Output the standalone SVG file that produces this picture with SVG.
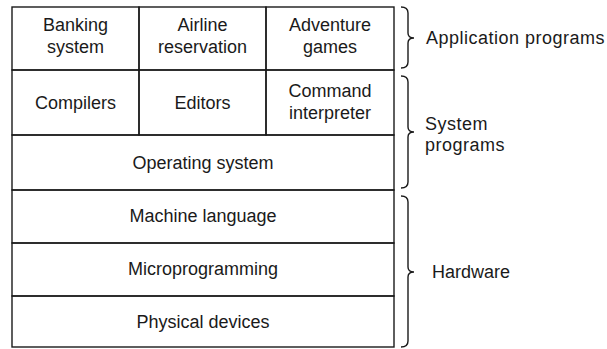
<svg xmlns="http://www.w3.org/2000/svg" width="607" height="349" viewBox="0 0 607 349">
<style>
.box{fill:none;stroke:#1a1a1a;stroke-width:1.4}
.brace{fill:none;stroke:#1a1a1a;stroke-width:1.4}
text{font-family:"Liberation Sans",Arial,sans-serif;font-size:18px;fill:#1a1a1a}
.c{text-anchor:middle}
.w{letter-spacing:0.5px}
</style>
<rect width="607" height="349" fill="#fff"/>
<g id="app-row">
<g id="banking"><rect class="box" x="12" y="7" width="127" height="63"/><text class="c" x="75.5" y="31">Banking</text><text class="c" x="75.5" y="53">system</text></g>
<g id="airline"><rect class="box" x="139" y="7" width="127" height="63"/><text class="c" x="202.5" y="31">Airline</text><text class="c" x="202.5" y="53">reservation</text></g>
<g id="adventure"><rect class="box" x="266" y="7" width="128" height="63"/><text class="c" x="330" y="31">Adventure</text><text class="c" x="330" y="53">games</text></g>
</g>
<g id="sys-row">
<g id="compilers"><rect class="box" x="12" y="70" width="127" height="65"/><text class="c" x="75.5" y="109">Compilers</text></g>
<g id="editors"><rect class="box" x="139" y="70" width="127" height="65"/><text class="c" x="202.5" y="109">Editors</text></g>
<g id="command"><rect class="box" x="266" y="70" width="128" height="65"/><text class="c" x="330" y="97">Command</text><text class="c" x="330" y="119">interpreter</text></g>
</g>
<g id="os"><rect class="box" x="12" y="135" width="382" height="55"/><text class="c" x="203" y="169">Operating system</text></g>
<g id="machine"><rect class="box" x="12" y="190" width="382" height="53"/><text class="c" x="203" y="222">Machine language</text></g>
<g id="micro"><rect class="box" x="12" y="243" width="382" height="53"/><text class="c" x="203" y="275">Microprogramming</text></g>
<g id="physical"><rect class="box" x="12" y="296" width="382" height="51"/><text class="c" x="203" y="328">Physical devices</text></g>
<g id="braces">
<path class="brace" d="M401 7 Q408 7 408 13 L408 33 Q408 38 414 38 Q408 38 408 43 L408 62 Q408 68 401 68"/>
<path class="brace" d="M401 76 Q408 76 408 82 L408 127 Q408 132 414 132 Q408 132 408 137 L408 182 Q408 188 401 188"/>
<path class="brace" d="M401 196 Q408 196 408 202 L408 267 Q408 272 414 272 Q408 272 408 277 L408 341 Q408 347 401 347"/>
</g>
<g id="labels">
<text class="w" x="426" y="44">Application programs</text>
<text class="w" x="425" y="130">System</text>
<text class="w" x="425" y="151">programs</text>
<text x="432" y="278">Hardware</text>
</g>
</svg>
